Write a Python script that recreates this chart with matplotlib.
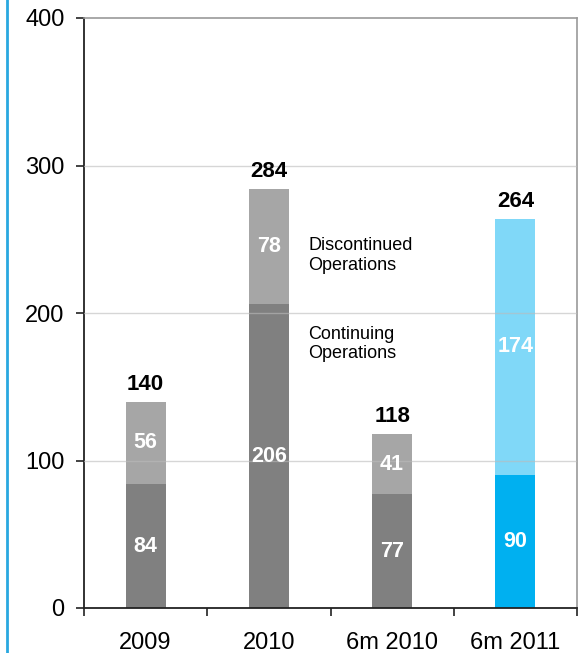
import matplotlib
matplotlib.use("Agg")
import matplotlib.pyplot as plt
from matplotlib.lines import Line2D

plt.rcParams['font.family'] = ['Liberation Sans', 'DejaVu Sans']

categories = ["2009", "2010", "6m 2010", "6m 2011"]
continuing = [84, 206, 77, 90]
discontinued = [56, 78, 41, 174]
totals = [140, 284, 118, 264]

bottom_colors = ["#808080", "#808080", "#808080", "#00B0F0"]
top_colors = ["#A6A6A6", "#A6A6A6", "#A6A6A6", "#80D8F8"]

fig = plt.figure(figsize=(5.85, 6.53), dpi=100)
ax = fig.add_axes([84/585, 1-608/653, (577-84)/585, (608-18)/653])

x = list(range(len(categories)))
w = 0.325
ax.bar(x, continuing, width=w, color=bottom_colors, zorder=2)
ax.bar(x, discontinued, width=w, bottom=continuing, color=top_colors, zorder=2)

for i in x:
    ax.text(i, continuing[i] / 2, str(continuing[i]), ha='center', va='center',
            color='white', fontsize=15.5, fontweight='bold', zorder=4)
    ax.text(i, continuing[i] + discontinued[i] / 2, str(discontinued[i]), ha='center',
            va='center', color='white', fontsize=15.5, fontweight='bold', zorder=4)
    ax.text(i, totals[i] + 4.5, str(totals[i]), ha='center', va='bottom',
            color='black', fontsize=16, fontweight='bold', zorder=4)

ax.text(1.32, 239, "Discontinued\nOperations", ha='left', va='center', fontsize=13,
        linespacing=1.2)
ax.text(1.32, 179, "Continuing\nOperations", ha='left', va='center', fontsize=13,
        linespacing=1.2)

ax.set_xlim(-0.5, 3.5)
ax.set_ylim(0, 400)
ax.set_yticks([0, 100, 200, 300, 400])
ax.set_yticklabels(["0", "100", "200", "300", "400"], fontsize=17)
ax.set_xticks([-0.5, 0.5, 1.5, 2.5, 3.5])
ax.set_xticklabels([])
ax.set_xticks(x, minor=True)
ax.set_xticklabels(categories, minor=True, fontsize=17)
ax.tick_params(axis='x', which='minor', length=0, pad=17)
ax.tick_params(axis='x', which='major', length=6, width=1.2, color='#222222')
ax.tick_params(axis='y', length=6, width=1.2, color='#222222', pad=8)

for yv in [100, 200, 300]:
    ax.axhline(yv, color='#BBBBBB', lw=1, zorder=3, alpha=0.6)

ax.spines['top'].set_color('#999999')
ax.spines['right'].set_color('#999999')
ax.spines['top'].set_linewidth(1.2)
ax.spines['right'].set_linewidth(1.2)
ax.spines['left'].set_color('#222222')
ax.spines['bottom'].set_color('#222222')
ax.spines['left'].set_linewidth(1.3)
ax.spines['bottom'].set_linewidth(1.3)

fig.add_artist(Line2D([7/585, 7/585], [0, 1], transform=fig.transFigure,
                      color='#29A8E0', lw=2))

fig.savefig("out.png", dpi=100)
